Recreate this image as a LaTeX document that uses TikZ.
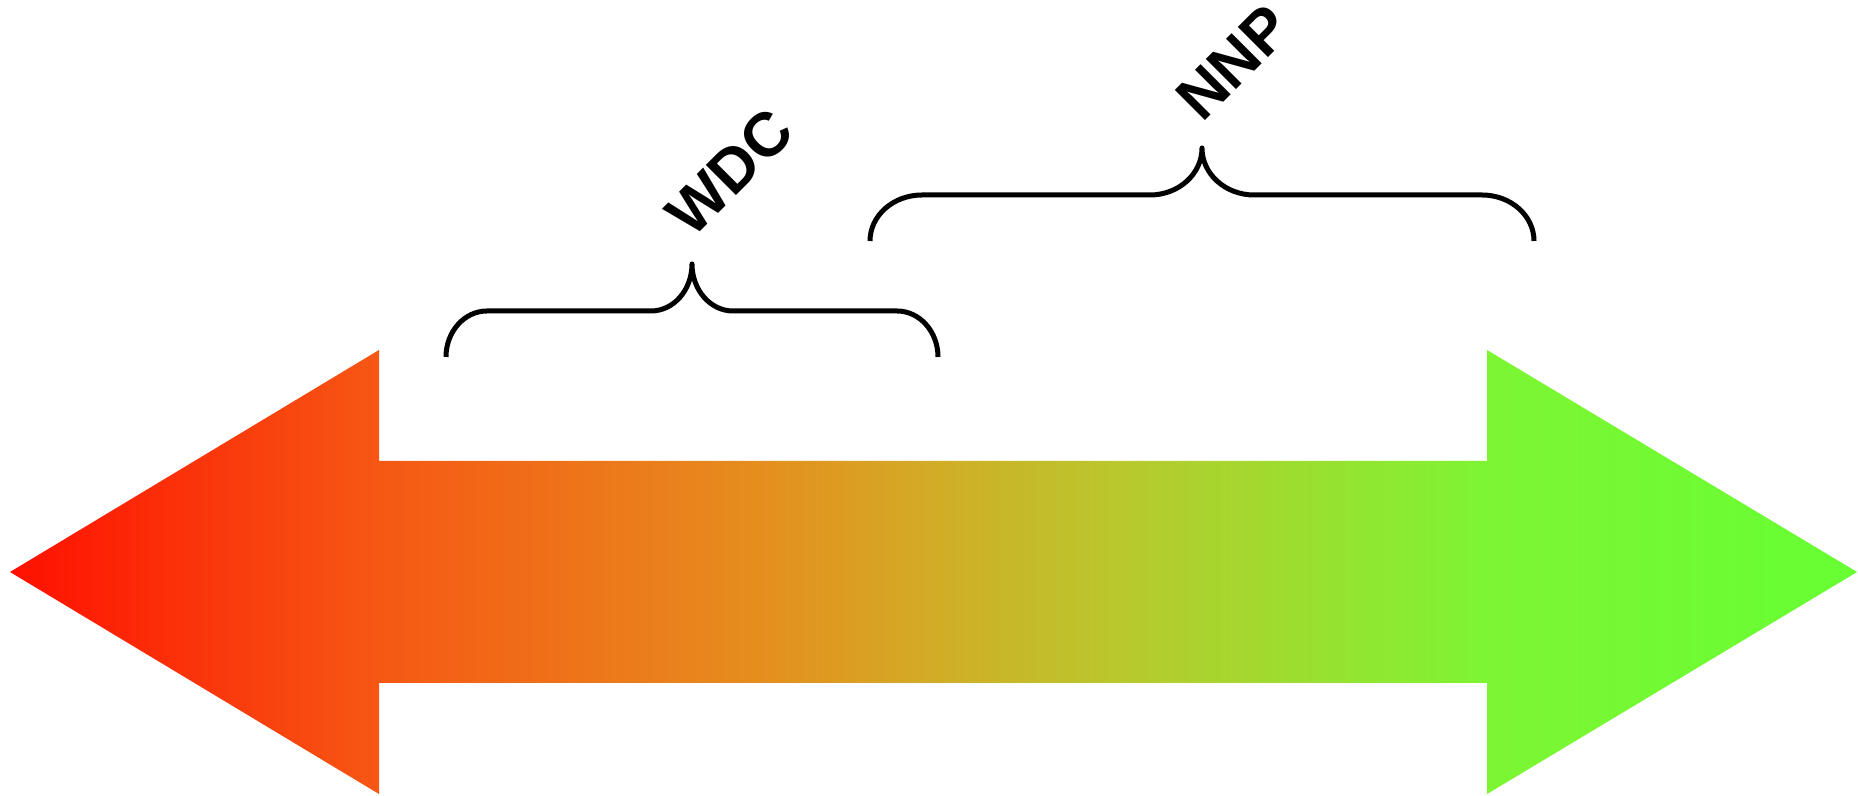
\documentclass[tikz,border=0pt]{standalone}
\usepackage{fontspec}
\setsansfont{Liberation Sans}
\usepackage{xcolor}
\usepackage{tikz}
\usetikzlibrary{calc}

\definecolor{gradA}{RGB}{255,16,0}
\definecolor{gradB}{RGB}{246,88,20}
\definecolor{gradC}{RGB}{230,140,30}
\definecolor{gradD}{RGB}{210,172,38}
\definecolor{gradE}{RGB}{185,200,45}
\definecolor{gradF}{RGB}{125,245,50}
\definecolor{gradG}{RGB}{102,255,51}
\pgfdeclarehorizontalshading{redgreen}{100bp}{color(0bp)=(gradA); color(25bp)=(gradA);
  color(35bp)=(gradB); color(45bp)=(gradC); color(50bp)=(gradD); color(55bp)=(gradE);
  color(65bp)=(gradF); color(75bp)=(gradG); color(100bp)=(gradG)}

\begin{document}
\begin{tikzpicture}[x=0.5pt,y=0.5pt,
    lbl/.style={font=\sffamily\bfseries\fontsize{31}{36}\selectfont,rotate=45,inner sep=0pt,anchor=base west},
    brc/.style={draw=black,line width=2.5pt,line join=round}]
  \useasboundingbox (0,0) rectangle (1858,796);
  % double arrow, red to green
  \shade[shading=redgreen] (10,224) -- (379,446) -- (379,335) -- (1487,335) -- (1487,446)
    -- (1857,224) -- (1487,2) -- (1487,113) -- (379,113) -- (379,2) -- cycle;
  % braces with their labels
  \foreach \nm/\xl/\yb/\hw/\rr/\txt in {wdc/446/439/246/41/WDC, nnp/870/555/332/52/NNP}{
    \coordinate (\nm-end) at (\xl,\yb);
    \coordinate (\nm-tip) at (\xl+\hw,\yb+93);
    \draw[brc] (\nm-end) arc[start angle=180,end angle=90,x radius=\rr,y radius=46]
      -- ++(\hw-2*\rr,0) arc[start angle=270,end angle=360,x radius=\rr,y radius=47]
      arc[start angle=180,end angle=270,x radius=\rr,y radius=47]
      -- ++(\hw-2*\rr,0) arc[start angle=90,end angle=0,x radius=\rr,y radius=46];
    \node[lbl] (\nm) at ($(\nm-tip)+(0,24)$) {\txt};
  }
\end{tikzpicture}
\end{document}
